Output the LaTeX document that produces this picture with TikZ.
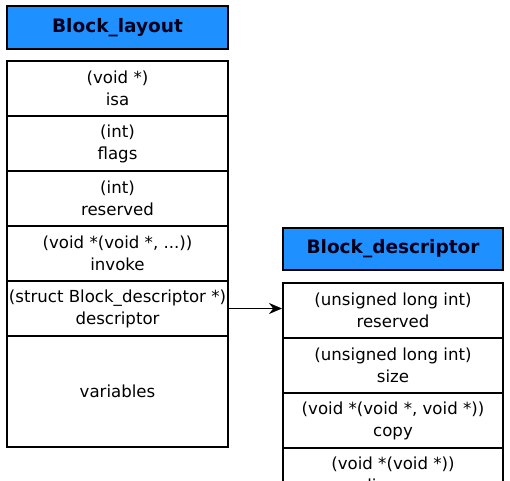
\documentclass[tikz,border=0pt]{standalone}
\usepackage{fontspec}
\setmainfont{DejaVu Sans}
\usetikzlibrary{arrows.meta}
\definecolor{titleblue}{HTML}{1E90FF}
\definecolor{titletext}{HTML}{00001A}
\tikzset{
  cell/.style={draw=black, line width=2pt, fill=white, inner sep=0pt, align=center,
    font=\fontsize{16.6}{22}\selectfont, anchor=north west, text=black},
  titlebox/.style={draw=black, line width=2pt, fill=titleblue, inner sep=0pt, align=center,
    font=\fontsize{18.5}{22}\selectfont\bfseries, anchor=north west, text=titletext},
  link/.style={-{Stealth[length=13pt,width=11pt]}, line width=1.8pt}
}
\begin{document}
\begin{tikzpicture}[x=1pt,y=-1pt]
\useasboundingbox (0,0) rectangle (510,480);
\clip (0,0) rectangle (510,480);
% left structure
\node[titlebox, minimum width=221pt, minimum height=43pt] (lt) at (6,5) {Block\_layout};
\node[cell, minimum width=221pt, minimum height=55pt] (isa) at (6,60) {(void *)\\isa};
\node[cell, minimum width=221pt, minimum height=55pt] (flags) at (6,115) {(int)\\flags};
\node[cell, minimum width=221pt, minimum height=55pt] (res) at (6,170) {(int)\\reserved};
\node[cell, minimum width=221pt, minimum height=55pt] (inv) at (6,225) {(void *(void *, ...))\\invoke};
\node[cell, minimum width=221pt, minimum height=55pt] (desc) at (6,280) {(struct Block\_descriptor *)\\descriptor};
\node[cell, minimum width=221pt, minimum height=111pt] (vars) at (6,335) {variables};
% right structure
\node[titlebox, minimum width=220pt, minimum height=42pt] (rt) at (282,227) {Block\_descriptor};
\node[cell, minimum width=220pt, minimum height=55pt] (rres) at (282,282) {(unsigned long int)\\reserved};
\node[cell, minimum width=220pt, minimum height=55pt] (size) at (282,337) {(unsigned long int)\\size};
\node[cell, minimum width=220pt, minimum height=55pt] (copy) at (282,392) {(void *(void *, void *))\\copy};
\node[cell, minimum width=220pt, minimum height=55pt] (disp) at (282,447) {(void *(void *))\\dispose};
% connector
\draw[link] (desc.east) -- (desc.east -| rres.west);
\end{tikzpicture}
\end{document}
